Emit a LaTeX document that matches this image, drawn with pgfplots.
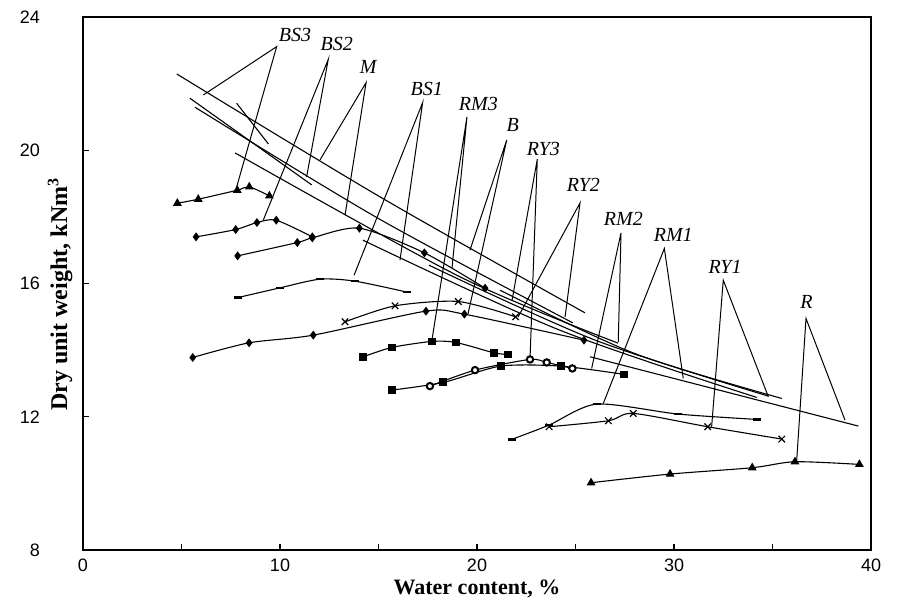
\documentclass[border=0pt]{standalone}
\usepackage{fontspec}
\setmainfont{Liberation Serif}
\setsansfont{Liberation Sans}
\usepackage{pgfplots}
\pgfplotsset{compat=1.18}

\pgfplotsset{
  curve/.style={black, line width=0.55pt, smooth, tension=0.45},
  zav/.style={black, line width=0.55pt, no markers},
}
\newcommand{\lbl}[3]{\node[font=\fontsize{10}{12}\selectfont\itshape] at (axis cs:#1,#2) {#3};}
\newcommand{\arms}[6]{\draw[line width=0.5pt] (axis cs:#3,#4) -- (axis cs:#1,#2) -- (axis cs:#5,#6);}

\begin{document}
\begin{tikzpicture}
\begin{axis}[
  scale only axis, width=394pt, height=266.5pt,
  xmin=0, xmax=40, ymin=8, ymax=24,
  xtick={0,10,20,30,40}, minor xtick={5,15,25,35},
  ytick={8,12,16,20,24},
  tick align=inside, tick pos=left,
  major tick length=3pt, minor tick length=3pt,
  every tick/.style={black, line width=0.6pt},
  tick label style={font=\sffamily\fontsize{9}{10}\selectfont},
  /pgf/number format/assume math mode=true,
  yticklabel style={xshift=-18pt},
  xticklabel style={yshift=-1pt},
  axis line style={line width=0.8pt},
  xlabel={\textbf{Water content, \%}},
  ylabel={\textbf{Dry unit weight, kNm\textsuperscript{3}}},
  xlabel style={font=\fontsize{11}{12}\selectfont, at={(axis description cs:0.5,0)}, anchor=center, yshift=-19.5pt},
  ylabel style={font=\fontsize{12}{13}\selectfont, at={(axis description cs:0,0.48)}, anchor=center, yshift=11.5pt},
  clip=false,
]
% compaction curves
\addplot[curve, mark=triangle*, mark size=2pt, mark options={fill=black}]
  coordinates {(4.79,18.41)(5.85,18.53)(7.83,18.80)(8.44,18.90)(9.46,18.63)};
\addplot[curve, mark=diamond*, mark size=1.8pt, mark options={fill=black}]
  coordinates {(5.74,17.40)(7.75,17.62)(8.83,17.83)(9.81,17.90)(11.64,17.40)};
\addplot[curve, mark=diamond*, mark size=1.8pt, mark options={fill=black}]
  coordinates {(7.85,16.83)(10.88,17.23)(11.64,17.37)(14.03,17.66)(17.33,16.92)(20.41,15.86)};
\addplot[curve, mark=-, mark size=2pt, mark options={line width=1.2pt}]
  coordinates {(7.88,15.58)(10.0,15.87)(12.03,16.13)(13.81,16.07)(16.46,15.74)};
\addplot[curve, mark=x, mark size=2.3pt, mark options={line width=0.6pt}]
  coordinates {(13.30,14.85)(15.84,15.33)(19.05,15.46)(21.96,15.0)};
\addplot[curve, mark=diamond*, mark size=1.8pt, mark options={fill=black}]
  coordinates {(5.57,13.78)(8.43,14.22)(11.69,14.45)(17.41,15.17)(19.36,15.08)(25.43,14.30)};
\addplot[curve, mark=square*, mark size=1.7pt, mark options={fill=black}]
  coordinates {(14.23,13.80)(15.67,14.08)(17.70,14.26)(18.93,14.23)(20.86,13.92)(21.59,13.87)};
\addplot[curve, mark=square*, mark size=1.7pt, mark options={fill=black}]
  coordinates {(15.67,12.80)(18.29,13.03)(21.20,13.52)(24.26,13.52)(27.48,13.27)};
\addplot[curve, mark=*, mark size=1.6pt, mark options={fill=white, line width=1pt}]
  coordinates {(17.61,12.92)(19.90,13.40)(22.69,13.72)(23.54,13.63)(24.84,13.45)};
\addplot[curve, mark=-, mark size=2pt, mark options={line width=1.2pt}]
  coordinates {(21.76,11.32)(23.66,11.75)(26.08,12.38)(30.22,12.08)(34.20,11.92)};
\addplot[curve, mark=x, mark size=2.3pt, mark options={line width=0.6pt}]
  coordinates {(23.66,11.70)(26.67,11.88)(27.93,12.10)(31.71,11.70)(35.47,11.33)};
\addplot[curve, mark=triangle*, mark size=2pt, mark options={fill=black}]
  coordinates {(25.79,10.02)(29.80,10.28)(33.97,10.47)(36.14,10.65)(39.41,10.57)};

% saturation lines
\addplot[zav, smooth] coordinates {(4.76,22.29)(15.08,18.60)(25.48,15.12)};
\addplot[zav] coordinates {(5.43,21.56)(11.61,18.96)};
\addplot[zav, smooth] coordinates {(5.69,21.29)(15.0,17.95)(24.86,14.82)};
\addplot[zav] coordinates {(7.80,21.41)(9.41,20.19)};
\addplot[zav, smooth] coordinates {(7.72,19.92)(19.14,16.20)(27.16,14.21)};
\addplot[zav, smooth] coordinates {(14.21,17.30)(24.2,14.6)(34.2,12.58)};
\addplot[zav, smooth] coordinates {(17.56,16.55)(26.0,14.3)(34.79,12.62)};
\addplot[zav, smooth] coordinates {(21.17,15.8)(28.0,13.9)(35.47,12.55)};
\addplot[zav] coordinates {(25.74,13.80)(39.36,11.72)};

% labels and pointer arms
\arms{9.83}{23.11}{6.11}{21.66}{7.80}{18.90}   \lbl{10.76}{23.45}{BS3}
\arms{12.45}{22.73}{11.35}{19.20}{9.15}{17.90} \lbl{12.88}{23.20}{BS2}
\arms{14.37}{22.03}{12.03}{19.71}{13.30}{18.05} \lbl{14.48}{22.50}{M}
\arms{17.24}{21.43}{16.09}{16.70}{13.76}{16.25} \lbl{17.45}{21.85}{BS1}
\arms{19.49}{21.0}{17.70}{14.25}{18.73}{16.46}  \lbl{20.07}{21.40}{RM3}
\arms{21.51}{20.31}{19.54}{15.08}{19.64}{17.0}  \lbl{21.81}{20.75}{B}
\arms{23.06}{19.73}{22.69}{13.72}{21.78}{15.5}  \lbl{23.37}{20.05}{RY3}
\arms{25.23}{18.42}{24.47}{15.0}{22.08}{14.99}  \lbl{25.40}{18.95}{RY2}
\arms{27.31}{17.52}{25.82}{13.45}{27.17}{14.25} \lbl{27.43}{17.95}{RM2}
\arms{29.51}{17.05}{26.41}{12.40}{30.47}{13.15} \lbl{29.96}{17.45}{RM1}
\arms{32.50}{16.10}{31.91}{11.70}{34.79}{12.60} \lbl{32.59}{16.50}{RY1}
\arms{36.70}{14.95}{36.23}{10.70}{38.68}{11.90} \lbl{36.73}{15.45}{R}
\end{axis}
\path (current axis.south west) ++(-41.5pt,-30.5pt) coordinate (bl);
\path (current axis.north east) ++(14pt,8.5pt) coordinate (tr);
\pgfresetboundingbox
\useasboundingbox (bl) rectangle (tr);
\end{tikzpicture}
\end{document}
